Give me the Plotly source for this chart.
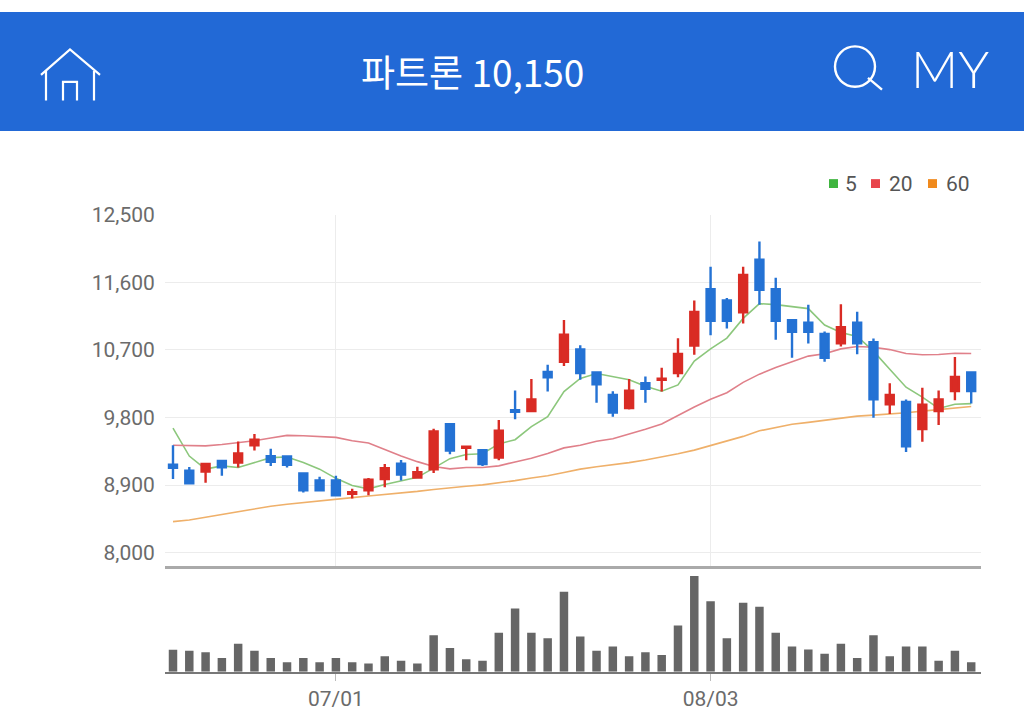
import plotly.graph_objects as go

days = list(range(50))
tick_days = [10, 33]
tick_labels = ["07/01", "08/03"]
price_ticks = [8000, 8900, 9800, 10700, 11600, 12500]
price_labels = ["8,000", "8,900", "9,800", "10,700", "11,600", "12,500"]
legend_names = ["5", "20", "60"]

open_ = [9170,9090,9080,9220,9200,9430,9285,9280,9055,8960,8960,8785,8830,8980,9185,9000,9110,9710,9395,9365,
         9265,9895,9885,10405,10540,10705,10400,10100,9925,10255,10300,10390,10755,11505,11355,11200,11900,11505,11095,11060,
         10910,10785,11060,10800,9975,10005,9645,9885,10150,10400]
close = [9130,8925,9180,9135,9320,9505,9210,9170,8830,8830,8765,8805,8970,9125,9040,9070,9615,9360,9410,9180,
         9625,9875,10040,10335,10900,10390,10240,9865,10155,10180,10315,10645,11205,11085,11085,11695,11500,11085,10940,10940,
         10595,11000,10785,10040,10100,9415,9970,10040,10340,10150]
high = [9430,9140,9180,9220,9480,9580,9385,9285,9070,9010,9025,8850,8995,9180,9235,9145,9650,9720,9415,9365,
        9765,10160,10310,10500,11095,10760,10400,10150,10310,10345,10460,10855,11355,11805,11390,11805,12140,11660,11095,11300,
        10945,11305,11205,10850,10255,10040,10195,10160,10605,10400]
low = [8980,8910,8930,9025,9135,9360,9155,9135,8800,8820,8765,8720,8765,8870,8960,8990,9060,9310,9230,9155,
       9230,9775,9885,10145,10485,10300,9995,9810,9905,9995,10145,10335,10635,10895,10985,11050,11300,10835,10595,10785,
       10540,10745,10640,9795,9845,9340,9475,9700,10030,9985]
ma5 = [9657,9286,9112,9156,9134,9199,9265,9273,9199,9112,8990,8894,8850,8907,8959,9003,9125,9252,9308,9317,
       9448,9504,9679,9810,10145,10320,10385,10342,10302,10215,10150,10233,10551,10712,10856,11118,11314,11301,11270,11248,
       11030,10930,10878,10682,10442,10202,10071,9919,9975,9984]
ma20 = [9430,9422,9422,9439,9461,9491,9526,9561,9557,9548,9535,9491,9461,9374,9286,9212,9147,9116,9134,9134,
        9156,9208,9256,9321,9395,9430,9483,9517,9579,9644,9714,9831,9940,10041,10128,10267,10376,10464,10542,10616,
        10647,10712,10743,10734,10703,10651,10634,10638,10655,10651]
ma60 = [8414,8436,8471,8510,8545,8580,8619,8645,8667,8698,8720,8733,8754,8772,8794,8816,8842,8868,8885,8903,
        8929,8959,8994,9025,9068,9112,9143,9169,9199,9234,9273,9317,9365,9426,9483,9548,9622,9670,9709,9735,
        9766,9797,9818,9831,9844,9862,9884,9906,9927,9945]
volume = [67,64,59,42,85,64,42,29,42,29,42,29,25,47,33,25,111,72,38,33,
          119,193,119,102,244,107,64,77,47,59,51,141,292,215,102,210,198,119,77,68,
          55,85,42,111,47,77,77,33,64,29]

W, H = 1024, 711
def px(x): return x / W
def py(y): return 1 - y / H

BLUE = "#2269d6"; RED = "#d92b24"; CANDLE_BLUE = "#2472d4"
MA_COL = ["#8cc77c", "#e0808a", "#efb06a"]
SQ_COL = ["#3fb53f", "#e8454c", "#f08a1d"]
TXT = "#6b6b6b"
FONT = "Roboto, 'Noto Sans', sans-serif"

fig = go.Figure()
for name, vals, col in zip(legend_names, [ma60, ma20, ma5][::-1], MA_COL):
    fig.add_trace(go.Scatter(x=days, y=vals, mode="lines", name=name,
                             line=dict(color=col, width=1.6), xaxis="x", yaxis="y", showlegend=False))
fig.add_trace(go.Candlestick(x=days, open=open_, high=high, low=low, close=close, xaxis="x", yaxis="y3",
                             whiskerwidth=0, showlegend=False,
                             increasing=dict(line=dict(color=RED, width=2.4), fillcolor=RED),
                             decreasing=dict(line=dict(color=CANDLE_BLUE, width=2.4), fillcolor=CANDLE_BLUE)))
fig.add_trace(go.Bar(x=days, y=volume, xaxis="x2", yaxis="y2", marker=dict(color="#666666", line_width=0),
                     width=0.52, showlegend=False))

x_range = [(165 - 173) / 16.29, (981 - 173) / 16.29]
price_range = [7817, 12500]
price_dom = [py(564), py(206)]

shapes = [
    dict(type="rect", xref="paper", yref="paper", x0=0, x1=1, y0=py(121), y1=1, fillcolor=BLUE, line_width=0, layer="below"),
    # home icon
    dict(type="path", xref="paper", yref="paper", line=dict(color="white", width=2.2),
         path=f"M {px(41)} {py(64)} L {px(70)} {py(38)} L {px(100)} {py(64)}"),
    dict(type="path", xref="paper", yref="paper", line=dict(color="white", width=2.2),
         path=f"M {px(46)} {py(90)} L {px(46)} {py(60)} M {px(94)} {py(90)} L {px(94)} {py(60)}"),
    dict(type="path", xref="paper", yref="paper", line=dict(color="white", width=2.2),
         path=f"M {px(63)} {py(90)} L {px(63)} {py(71)} L {px(77)} {py(71)} L {px(77)} {py(90)}"),
    # search icon
    dict(type="circle", xref="paper", yref="paper", x0=px(835), x1=px(875), y0=py(76), y1=py(35),
         line=dict(color="white", width=2.4)),
    dict(type="line", xref="paper", yref="paper", x0=px(868), x1=px(882), y0=py(67), y1=py(79),
         line=dict(color="white", width=2.4)),
    # legend squares
    dict(type="rect", xref="paper", yref="paper", x0=px(829), x1=px(838), y0=py(179), y1=py(170), fillcolor=SQ_COL[0], line_width=0),
    dict(type="rect", xref="paper", yref="paper", x0=px(871), x1=px(880), y0=py(179), y1=py(170), fillcolor=SQ_COL[1], line_width=0),
    dict(type="rect", xref="paper", yref="paper", x0=px(928), x1=px(937), y0=py(179), y1=py(170), fillcolor=SQ_COL[2], line_width=0),
]

def note(text, x, y, size, color, family=FONT, anchor="center", weight=None):
    return dict(text=text, xref="paper", yref="paper", x=px(x), y=py(y), xanchor=anchor, yanchor="middle",
                showarrow=False, font=dict(size=size, color=color, family=family, weight=weight))

annotations = [
    note("파트론 10,150", 472, 60, 37, "white", family="'Noto Sans CJK KR', sans-serif"),
    note("MY", 950, 57, 52, "white", family="Lato, 'Noto Sans', sans-serif", weight=300),
    note(legend_names[0], 851, 175, 21, "#555555", anchor="center"),
    note(legend_names[1], 901, 175, 21, "#555555", anchor="center"),
    note(legend_names[2], 958, 175, 21, "#555555", anchor="center"),
]

fig.update_layout(
    width=W, height=H, margin=dict(l=0, r=0, t=0, b=0),
    paper_bgcolor="white", plot_bgcolor="white", showlegend=False, hovermode=False,
    shapes=shapes, annotations=annotations,
    xaxis=dict(domain=[px(165), px(981)], range=x_range, anchor="y", tickmode="array", tickvals=tick_days,
               ticktext=["", ""], showgrid=True, gridcolor="#ececec", gridwidth=1, zeroline=False,
               showline=True, linecolor="#aaaaaa", linewidth=2.5, ticks="", rangeslider=dict(visible=False)),
    yaxis=dict(domain=price_dom, range=price_range, tickmode="array", tickvals=price_ticks, ticktext=price_labels,
               showgrid=True, gridcolor="#ececec", gridwidth=1, zeroline=False, ticks="outside", ticklen=5,
               tickcolor="rgba(0,0,0,0)", tickfont=dict(size=21, color=TXT, family=FONT)),
    yaxis3=dict(domain=price_dom, range=price_range, overlaying="y", visible=False),
    xaxis2=dict(domain=[px(165), px(981)], range=x_range, anchor="y2", tickmode="array", tickvals=tick_days,
                ticktext=tick_labels, showgrid=False, zeroline=False, showline=True, linecolor="#777777", linewidth=2,
                ticks="outside", ticklen=7, tickcolor="#bbbbbb", tickwidth=1,
                tickfont=dict(size=21, color=TXT, family=FONT)),
    yaxis2=dict(domain=[py(671), py(566)], range=[0, 315], visible=False),
)

fig.write_html("out.html", config=dict(displayModeBar=False),
               post_script="document.body.style.margin='0';document.body.style.overflow='hidden';")
